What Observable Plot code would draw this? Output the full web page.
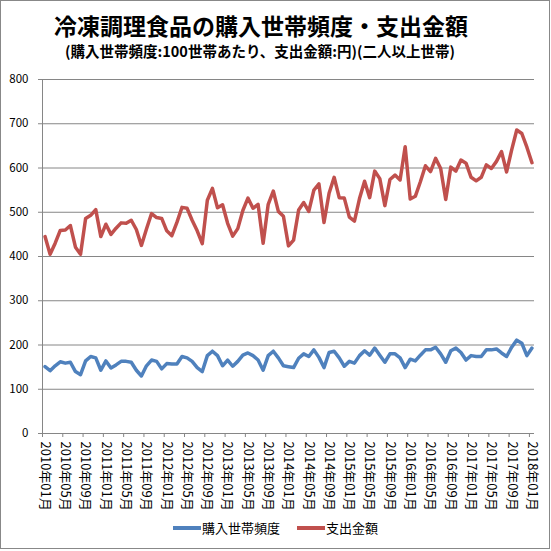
<!DOCTYPE html>
<html><head><meta charset="utf-8">
<script src="https://cdn.jsdelivr.net/npm/d3@7"></script>
<script src="https://cdn.jsdelivr.net/npm/@observablehq/plot@0.6"></script>
<style>
body{margin:0;background:#fff;font-family:"Noto Sans CJK JP","Noto Sans",sans-serif;}
#frame{position:absolute;left:0;top:0;width:550px;height:549px;border:1px solid #888;box-sizing:border-box;}
#title{position:absolute;left:0;width:522px;top:13px;text-align:center;font-size:23px;line-height:24px;font-weight:bold;color:#000;white-space:nowrap;}
#subtitle{position:absolute;left:0;width:520px;top:42px;text-align:center;font-size:14.5px;line-height:17px;font-weight:bold;color:#000;white-space:nowrap;}
#chart{position:absolute;left:0;top:70px;}
.lg{position:absolute;top:519px;font-size:13px;line-height:18px;color:#000;white-space:nowrap;}
.sw{display:inline-block;width:28px;height:4px;vertical-align:middle;margin-right:1px;position:relative;top:-1px;}
</style></head><body>
<div id="frame"></div>
<div id="title">冷凍調理食品の購入世帯頻度・支出金額</div>
<div id="subtitle">(購入世帯頻度:100世帯あたり、支出金額:円)(二人以上世帯)</div>
<div id="chart"></div>
<div class="lg" style="left:173px"><span class="sw" style="background:#4F81BD"></span>購入世帯頻度</div>
<div class="lg" style="left:297px"><span class="sw" style="background:#C0504D"></span>支出金額</div>
<script>
const seriesNames = ["購入世帯頻度", "支出金額"];
const seriesColors = ["#4F81BD", "#C0504D"];
const tickLabels = ["2010年01月","2010年05月","2010年09月","2011年01月","2011年05月","2011年09月","2012年01月","2012年05月","2012年09月","2013年01月","2013年05月","2013年09月","2014年01月","2014年05月","2014年09月","2015年01月","2015年05月","2015年09月","2016年01月","2016年05月","2016年09月","2017年01月","2017年05月","2017年09月","2018年01月"];
const yTicks = [0,100,200,300,400,500,600,700,800];
// 購入世帯頻度 (100世帯あたり), 2010年01月〜2018年01月
const frequency = [151,142,153,162,159,161,140,133,164,174,171,143,
  164,148,155,163,163,161,143,130,153,166,163,146,
  158,157,157,174,171,163,149,140,176,186,176,153,
  166,152,163,177,182,176,166,143,176,186,171,153,
  151,149,170,180,174,189,172,149,183,186,171,152,
  163,159,176,187,177,193,177,161,180,180,171,149,
  168,164,177,189,189,195,180,161,187,193,183,166,
  176,174,174,189,189,191,182,174,195,211,204,176,
  193];
// 支出金額 (円)
const spending = [445,405,430,459,460,470,421,405,486,493,506,445,
  473,450,464,476,475,482,461,425,462,497,488,486,
  458,447,477,511,509,482,458,429,527,554,510,517,
  475,446,463,504,532,509,518,430,518,548,502,491,
  424,437,505,522,502,550,564,477,543,579,533,532,
  489,480,531,570,533,593,576,515,574,584,573,648,
  530,536,569,605,592,622,599,529,602,593,618,611,
  579,571,579,607,599,615,637,591,641,686,678,647,
  612];

const labelIdx = tickLabels.map((_, k) => k * 4);
const boundaryIdx = labelIdx.map(i => i - 0.5);
const rows = [];
[frequency, spending].forEach((arr, s) => arr.forEach((v, i) => rows.push({i, v, s: seriesNames[s]})));

const gray = "#868686";
const chart = Plot.plot({
  width: 545, height: 440,
  marginLeft: 42, marginRight: 11, marginTop: 9, marginBottom: 77,
  style: {fontFamily: '"Noto Sans CJK JP","Noto Sans",sans-serif', fontSize: "11px", color: "#000", background: "transparent"},
  x: {domain: [-0.5, 96.5]},
  y: {domain: [0, 800]},
  color: {domain: seriesNames, range: seriesColors},
  marks: [
    Plot.gridY({ticks: yTicks, stroke: gray, strokeOpacity: 1, strokeWidth: 1}),
    Plot.ruleX([-0.5], {stroke: gray}),
    Plot.axisY({ticks: yTicks, tickSize: 4, tickPadding: 10, stroke: gray, label: null, fontSize: 11.5}),
    Plot.axisX({ticks: boundaryIdx, tickSize: 4, tickFormat: () => "", stroke: gray, label: null}),
    Plot.axisX({ticks: labelIdx, tickSize: 0, tickPadding: 8, tickRotate: 90, tickFormat: i => tickLabels[Math.round(i / 4)], label: null, fontSize: 13}),
    Plot.line(rows, {x: "i", y: "v", z: "s", stroke: "s", strokeWidth: 3.5, strokeLinejoin: "round", strokeLinecap: "round"})
  ]
});
document.getElementById("chart").appendChild(chart);
</script>
</body></html>
